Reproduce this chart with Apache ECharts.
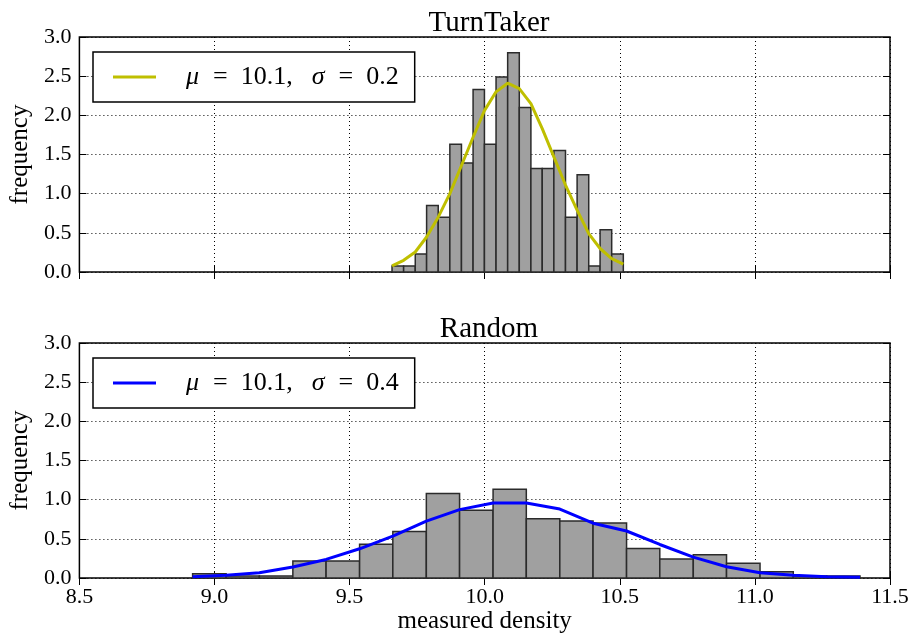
<!DOCTYPE html>
<html>
<head>
<meta charset="utf-8">
<script src="https://cdn.jsdelivr.net/npm/echarts@6/dist/echarts.min.js"></script>
<style>
html,body{margin:0;padding:0;background:#fff;}
#chart{width:912px;height:639px;}
</style>
</head>
<body>
<div id="chart"></div>
<script>
// ---------- data ----------
const xTicks = [8.5, 9.0, 9.5, 10.0, 10.5, 11.0, 11.5];
const yTicks = [0.0, 0.5, 1.0, 1.5, 2.0, 2.5, 3.0];

const topTitle = 'TurnTaker';
const topEdges = [9.657, 9.700, 9.743, 9.785, 9.828, 9.871, 9.914, 9.957, 9.999, 10.042, 10.085,
                  10.128, 10.171, 10.213, 10.256, 10.299, 10.342, 10.385, 10.427, 10.470, 10.513];
const topHeights = [0.078, 0.078, 0.23, 0.85, 0.70, 1.63, 1.39, 2.33, 1.63, 2.49,
                    2.80, 2.10, 1.32, 1.32, 1.55, 0.70, 1.24, 0.078, 0.54, 0.23];
const topCurve = [0.077, 0.149, 0.255, 0.447, 0.70, 1.00, 1.36, 1.72, 2.06, 2.30, 2.41,
                  2.34, 2.15, 1.83, 1.47, 1.11, 0.79, 0.49, 0.30, 0.17, 0.10];
const topLegend = 'μ = 10.1,  σ = 0.2';

const botTitle = 'Random';
const botEdges = [8.919, 9.043, 9.166, 9.290, 9.413, 9.537, 9.660, 9.784, 9.907, 10.031, 10.154,
                  10.278, 10.401, 10.525, 10.648, 10.772, 10.895, 11.019, 11.142, 11.266, 11.389];
const botHeights = [0.054, 0.027, 0.027, 0.216, 0.216, 0.43, 0.594, 1.08, 0.864, 1.134,
                    0.756, 0.729, 0.702, 0.378, 0.243, 0.297, 0.189, 0.081, 0.027, 0.027];
const botCurve = [0.017, 0.034, 0.068, 0.14, 0.237, 0.373, 0.534, 0.725, 0.873, 0.958, 0.958,
                  0.88, 0.70, 0.60, 0.428, 0.267, 0.144, 0.068, 0.034, 0.017, 0.008];
const botLegend = 'μ = 10.1,  σ = 0.4';

const xLabel = 'measured density';
const yLabel = 'frequency';

// ---------- styling ----------
const FONT = 'Liberation Serif';
const TICK_FS = 22, NAME_FS = 25, TITLE_FS = 29, LEG_FS = 26;
const GRIDS = [{top: 37, height: 235}, {top: 343, height: 235}];

function binData(edges, h) {
  return h.map((v, i) => [edges[i], edges[i + 1], v]);
}
function curveData(edges, c) {
  return c.map((v, i) => [edges[i], v]);
}
function renderBar(params, api) {
  const p0 = api.coord([api.value(0), api.value(2)]);
  const p1 = api.coord([api.value(1), 0]);
  return {
    type: 'rect',
    shape: {x: p0[0], y: p0[1], width: p1[0] - p0[0], height: p1[1] - p0[1]},
    style: {fill: '#a0a0a0', stroke: '#2b2b2b', lineWidth: 1.5}
  };
}

const grids = [], xAxes = [], yAxes = [];
GRIDS.forEach((g, gi) => {
  grids.push({left: 79, right: 22, top: g.top, height: g.height, show: true,
              borderColor: '#000', borderWidth: 1.5, backgroundColor: 'transparent'});
  const base = {
    gridIndex: gi, type: 'value', min: xTicks[0], max: xTicks[xTicks.length - 1], interval: 0.5,
    axisLine: {show: false},
    axisTick: {show: true, inside: true, length: 7, lineStyle: {color: '#000', width: 1}},
  };
  xAxes.push(Object.assign({}, base, {
    position: 'bottom',
    axisLabel: {show: gi === 1, color: '#000', fontFamily: FONT, fontSize: TICK_FS, margin: 8,
                formatter: v => v.toFixed(1)},
    splitLine: {show: true, lineStyle: {color: '#000', width: 1, type: [1, 3]}},
    name: gi === 1 ? xLabel : '', nameLocation: 'middle', nameGap: 31,
    nameTextStyle: {color: '#000', fontFamily: FONT, fontSize: NAME_FS}
  }));
  xAxes.push(Object.assign({}, base, {
    position: 'top', axisLabel: {show: false}, splitLine: {show: false}
  }));
  const ybase = {
    gridIndex: gi, type: 'value', min: yTicks[0], max: yTicks[yTicks.length - 1], interval: 0.5,
    axisLine: {show: false},
    axisTick: {show: true, inside: true, length: 7, lineStyle: {color: '#000', width: 1}},
  };
  yAxes.push(Object.assign({}, ybase, {
    position: 'left',
    axisLabel: {color: '#000', fontFamily: FONT, fontSize: TICK_FS, margin: 8,
                formatter: v => v.toFixed(1)},
    splitLine: {show: true, lineStyle: {color: '#000', width: 1, type: [1, 3]}},
    name: yLabel, nameLocation: 'middle', nameGap: 45,
    nameTextStyle: {color: '#000', fontFamily: FONT, fontSize: NAME_FS}
  }));
  yAxes.push(Object.assign({}, ybase, {
    position: 'right', axisLabel: {show: false}, splitLine: {show: false}
  }));
});

function legendFmt(name) {
  const m = name.match(/μ = ([\d.]+),\s+σ = ([\d.]+)/);
  return '{s|}{m|μ}{eq|=}{t|' + m[1] + ',}{g|}{m|σ}{eq|=}{t|' + m[2] + '}';
}
const legendRich = {
  s: {width: 25},
  g: {width: 19},
  m: {fontFamily: FONT, fontStyle: 'italic', fontSize: LEG_FS, color: '#000', lineHeight: 24},
  eq: {fontFamily: FONT, fontSize: LEG_FS, color: '#000', padding: [0, 13, 0, 14], lineHeight: 24},
  t: {fontFamily: FONT, fontSize: LEG_FS, color: '#000', lineHeight: 24}
};
function makeLegend(name, top) {
  return {
    data: [name], left: 93, top: top, orient: 'horizontal',
    borderColor: '#000', borderWidth: 1.5, borderRadius: 0,
    padding: [12, 16, 12, 20], itemWidth: 43, itemHeight: 3, icon: 'rect',
    backgroundColor: '#fff',
    formatter: legendFmt,
    textStyle: {rich: legendRich, fontFamily: FONT, fontSize: LEG_FS, color: '#000'},
    selectedMode: false
  };
}

const option = {
  animation: false,
  backgroundColor: '#fff',
  title: [
    {text: topTitle, left: 484, textAlign: 'center', top: 4,
     textStyle: {fontFamily: FONT, fontSize: TITLE_FS, fontWeight: 'normal', color: '#000'}},
    {text: botTitle, left: 484, textAlign: 'center', top: 310,
     textStyle: {fontFamily: FONT, fontSize: TITLE_FS, fontWeight: 'normal', color: '#000'}}
  ],
  legend: [makeLegend(topLegend, 52), makeLegend(botLegend, 358)],
  grid: grids,
  xAxis: xAxes,
  yAxis: yAxes,
  series: [
    {type: 'custom', name: 'topHist', xAxisIndex: 0, yAxisIndex: 0,
     renderItem: renderBar, data: binData(topEdges, topHeights), z: 2, silent: true},
    {type: 'line', name: topLegend, xAxisIndex: 0, yAxisIndex: 0,
     data: curveData(topEdges, topCurve), symbol: 'none', smooth: false,
     lineStyle: {color: '#bfbf00', width: 3}, itemStyle: {color: '#bfbf00'}, z: 3},
    {type: 'custom', name: 'botHist', xAxisIndex: 2, yAxisIndex: 2,
     renderItem: renderBar, data: binData(botEdges, botHeights), z: 2, silent: true},
    {type: 'line', name: botLegend, xAxisIndex: 2, yAxisIndex: 2,
     data: curveData(botEdges, botCurve), symbol: 'none', smooth: false,
     lineStyle: {color: '#0000ff', width: 3}, itemStyle: {color: '#0000ff'}, z: 3}
  ]
};

const chart = echarts.init(document.getElementById('chart'), null, {renderer: 'canvas'});
chart.setOption(option);
</script>
</body>
</html>
